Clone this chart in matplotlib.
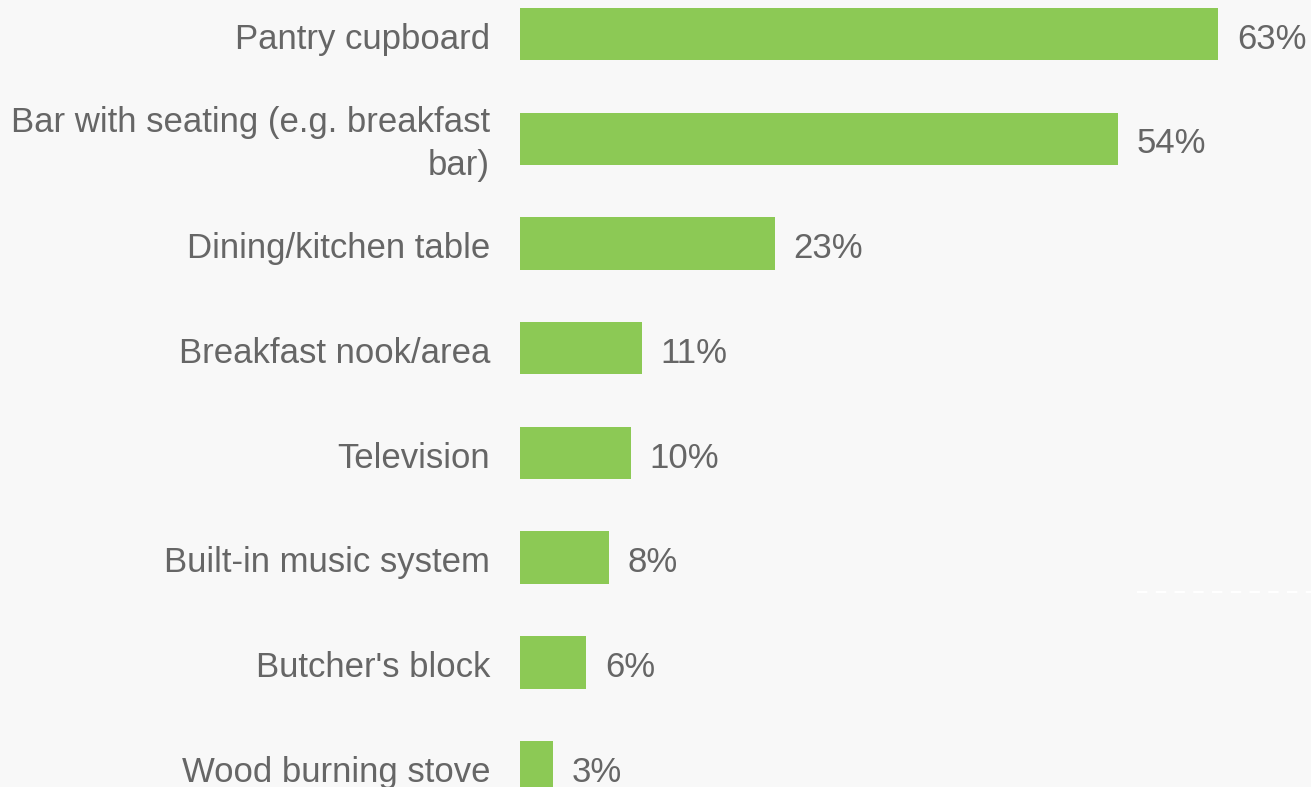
import matplotlib.pyplot as plt
import numpy as np

# data
features = ["Pantry cupboard", "Bar with seating (e.g. breakfast\nbar)", "Dining/kitchen table",
            "Breakfast nook/area", "Television", "Built-in music system", "Butcher's block",
            "Wood burning stove"]
shares = [63, 54, 23, 11, 10, 8, 6, 3]

bg = "#f8f8f8"
green = "#8cc955"
grey = "#666666"

plt.rcParams['font.family'] = ['Liberation Sans', 'DejaVu Sans']

fig = plt.figure(figsize=(13.11, 7.87), dpi=100, facecolor=bg)
ax = fig.add_axes([520 / 1311, 0, 791 / 1311, 1])
ax.set_facecolor(bg)

y = np.arange(len(features))
ax.barh(y, shares, height=0.5, color=green)

for yi, v in zip(y, shares):
    ax.text(v + 1.7, yi + 0.05, f"{v}%", va="center", ha="left", fontsize=25, color=grey)
    ax.text(-2.7, yi + 0.05, features[yi], va="center", ha="right", fontsize=25, color=grey,
            linespacing=1.35)

# faint dashed line on the right
ax.plot([55.7, 71.4], [5.33, 5.33], color="white", linestyle=(0, (5, 4)), linewidth=1.5)

ax.set_xlim(0, 71.4)
ax.set_ylim(7.19, -0.325)
ax.axis("off")

plt.savefig("out.png", dpi=100, facecolor=bg)
